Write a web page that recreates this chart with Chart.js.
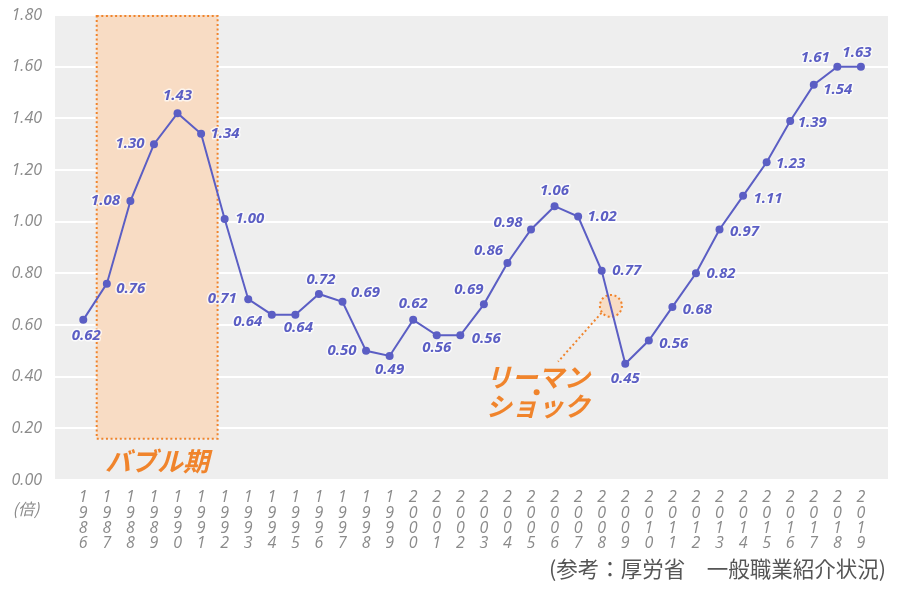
<!DOCTYPE html>
<html lang="ja">
<head>
<meta charset="utf-8">
<title>有効求人倍率の推移</title>
<script src="https://cdn.jsdelivr.net/npm/chart.js@4.4.1/dist/chart.umd.min.js"></script>
<style>
  html, body { margin: 0; padding: 0; background: #ffffff; }
  #wrap { width: 900px; height: 591px; position: relative; }
</style>
</head>
<body>
<div id="wrap"><canvas id="ratioChart"></canvas></div>
<script>
// 年（横軸）
const years = [
  1986, 1987, 1988, 1989, 1990, 1991, 1992, 1993, 1994, 1995, 1996, 1997,
  1998, 1999, 2000, 2001, 2002, 2003, 2004, 2005, 2006, 2007, 2008, 2009,
  2010, 2011, 2012, 2013, 2014, 2015, 2016, 2017, 2018, 2019
];
// 点の位置
const ratios = [
  0.62, 0.76, 1.08, 1.30, 1.42, 1.34, 1.01, 0.70, 0.64, 0.64, 0.72, 0.69,
  0.50, 0.48, 0.62, 0.56, 0.56, 0.68, 0.84, 0.97, 1.06, 1.02, 0.81, 0.45,
  0.54, 0.67, 0.80, 0.97, 1.10, 1.23, 1.39, 1.53, 1.60, 1.60
];
// 表示されている数値ラベル
const ratioLabels = [
  "0.62", "0.76", "1.08", "1.30", "1.43", "1.34", "1.00", "0.71", "0.64", "0.64", "0.72", "0.69",
  "0.50", "0.49", "0.62", "0.56", "0.56", "0.69", "0.86", "0.98", "1.06", "1.02", "0.77", "0.45",
  "0.56", "0.68", "0.82", "0.97", "1.11", "1.23", "1.39", "1.54", "1.61", "1.63"
];
// 縦軸の目盛
const yTicks = [0, 0.2, 0.4, 0.6, 0.8, 1.0, 1.2, 1.4, 1.6, 1.8];

// ラベルの位置ずれ（px, 点からの相対）
const labelOffsets = [
  [3, 16], [24, 5], [-25, 0], [-24, 0], [0, -17], [24, 0], [25, 0], [-26, 0],
  [-24, 7], [3, 13], [2, -14], [23, -9], [-24, 0], [0, 14], [0, -16], [0, 12],
  [26, 3], [-15, -15], [-19, -12], [-23, -7], [0, -15], [24, 0], [25, 0], [0, 15],
  [25, 3], [25, 3], [25, 0], [25, 2], [25, 3], [24, 1], [22, 2], [24, 5],
  [-22, -9], [-4, -14]
];

const LINE_COLOR = "#5b5ec4";
const ORANGE = "#f0842c";
const PEACH = "#f8dcc4";
const TICK_GRAY = "#8a8a8a";

// 注記の位置（データ座標）
const bubble = { x0: 1986.57, x1: 1991.70, y0: 0.16, y1: 1.80, labelX: 1989.13, labelY: 0.074 };
const lehman = { cx: 2008.39, cy: 0.674, r: 11, lx0: 2007.99, ly0: 0.647, lx1: 2006.15, ly1: 0.458,
                 dotX: 2005.24, dotY: 0.34, textX: 2005.29, textY1: 0.399, textY2: 0.286 };

const dotted = (ctx) => {
  ctx.strokeStyle = ORANGE;
  ctx.lineWidth = 2;
  ctx.setLineDash([2, 2.6]);
};

const plotBackground = {
  id: "plotBackground",
  beforeDraw(chart) {
    const { ctx, chartArea: a } = chart;
    ctx.save();
    ctx.fillStyle = "#eeeeee";
    ctx.fillRect(a.left, a.top, a.right - a.left, a.bottom - a.top);
    ctx.restore();
  }
};

const annotations = {
  id: "annotations",
  beforeDatasetsDraw(chart) {
    const { ctx } = chart;
    const x = chart.scales.x, y = chart.scales.y;
    ctx.save();
    // バブル期
    const bx0 = x.getPixelForValue(bubble.x0), bx1 = x.getPixelForValue(bubble.x1);
    const by0 = y.getPixelForValue(bubble.y1), by1 = y.getPixelForValue(bubble.y0);
    ctx.fillStyle = PEACH;
    ctx.fillRect(bx0, by0, bx1 - bx0, by1 - by0);
    dotted(ctx);
    ctx.strokeRect(bx0, by0 + 1, bx1 - bx0, by1 - by0 - 1);
    ctx.setLineDash([]);
    ctx.fillStyle = ORANGE;
    ctx.font = "italic bold 26px 'Noto Sans CJK JP'";
    ctx.textAlign = "center";
    ctx.textBaseline = "middle";
    ctx.fillText("バブル期", x.getPixelForValue(bubble.labelX), y.getPixelForValue(bubble.labelY));

    // リーマンショック
    const cx = x.getPixelForValue(lehman.cx), cy = y.getPixelForValue(lehman.cy);
    ctx.beginPath();
    ctx.arc(cx, cy, lehman.r, 0, Math.PI * 2);
    ctx.fillStyle = PEACH;
    ctx.fill();
    dotted(ctx);
    ctx.stroke();
    ctx.beginPath();
    ctx.moveTo(x.getPixelForValue(lehman.lx0), y.getPixelForValue(lehman.ly0));
    ctx.lineTo(x.getPixelForValue(lehman.lx1), y.getPixelForValue(lehman.ly1));
    ctx.stroke();
    ctx.setLineDash([]);
    ctx.fillStyle = ORANGE;
    ctx.beginPath();
    ctx.arc(x.getPixelForValue(lehman.dotX), y.getPixelForValue(lehman.dotY), 3, 0, Math.PI * 2);
    ctx.fill();
    ctx.font = "italic bold 26px 'Noto Sans CJK JP'";
    const tx = x.getPixelForValue(lehman.textX);
    ctx.fillText("リーマン", tx, y.getPixelForValue(lehman.textY1));
    ctx.fillText("ショック", tx, y.getPixelForValue(lehman.textY2));
    ctx.restore();
  }
};

const valueLabels = {
  id: "valueLabels",
  afterDatasetsDraw(chart) {
    const { ctx } = chart;
    const meta = chart.getDatasetMeta(0);
    ctx.save();
    ctx.font = "italic bold 15px 'Open Sans'";
    ctx.textAlign = "center";
    ctx.textBaseline = "middle";
    ctx.lineJoin = "round";
    meta.data.forEach((pt, i) => {
      const [dx, dy] = labelOffsets[i];
      const lx = pt.x + dx, ly = pt.y + dy;
      ctx.strokeStyle = "rgba(255,255,255,0.7)";
      ctx.lineWidth = 3;
      ctx.strokeText(ratioLabels[i], lx, ly);
      ctx.fillStyle = LINE_COLOR;
      ctx.fillText(ratioLabels[i], lx, ly);
    });
    ctx.restore();
  }
};

const extraText = {
  id: "extraText",
  afterDraw(chart) {
    const { ctx } = chart;
    ctx.save();
    ctx.fillStyle = TICK_GRAY;
    ctx.font = "italic 16px 'Noto Sans CJK JP'";
    ctx.textAlign = "center";
    ctx.textBaseline = "middle";
    ctx.fillText("(倍)", 26, 509);
    ctx.fillStyle = "#555555";
    ctx.font = "21.5px 'Noto Sans CJK JP'";
    ctx.textAlign = "right";
    ctx.fillText("(参考：厚労省　一般職業紹介状況)", 886, 569);
    ctx.restore();
  }
};

new Chart(document.getElementById("ratioChart"), {
  type: "line",
  data: {
    datasets: [
      {
        label: "有効求人倍率",
        data: years.map((yr, i) => ({ x: yr, y: ratios[i] })),
        borderColor: LINE_COLOR,
        backgroundColor: LINE_COLOR,
        borderWidth: 2,
        pointRadius: 4,
        pointHoverRadius: 4,
        pointBorderWidth: 0,
        tension: 0,
      },
    ],
  },
  options: {
    responsive: true,
    maintainAspectRatio: false,
    animation: false,
    layout: { padding: { top: 15, right: 12, left: 0, bottom: 0 } },
    plugins: {
      legend: { display: false },
      tooltip: { enabled: false },
    },
    scales: {
      x: {
        type: "linear",
        min: 1984.80,
        max: 2020.15,
        afterBuildTicks: (axis) => {
          axis.ticks = years.map((v) => ({ value: v }));
        },
        afterFit: (scale) => {
          scale.height = 111;
        },
        ticks: {
          autoSkip: false,
          maxRotation: 0,
          padding: 10,
          color: TICK_GRAY,
          font: { family: "'Open Sans'", style: "italic", size: 16, lineHeight: 0.96 },
          callback: (v) => String(v).split(""),
        },
        grid: { display: false, drawTicks: false },
        border: { display: false },
      },
      y: {
        min: 0,
        max: 1.8,
        afterBuildTicks: (axis) => {
          axis.ticks = yTicks.map((v) => ({ value: v }));
        },
        afterFit: (scale) => {
          scale.width = 55;
          scale.paddingTop = 0;
          scale.paddingBottom = 0;
        },
        ticks: {
          padding: 13,
          color: TICK_GRAY,
          font: { family: "'Open Sans'", style: "italic", size: 16 },
          callback: (v) => Number(v).toFixed(2),
        },
        grid: { color: "#ffffff", lineWidth: 2, drawTicks: false },
        border: { display: false },
      },
    },
  },
  plugins: [plotBackground, annotations, valueLabels, extraText],
});
</script>
</body>
</html>
